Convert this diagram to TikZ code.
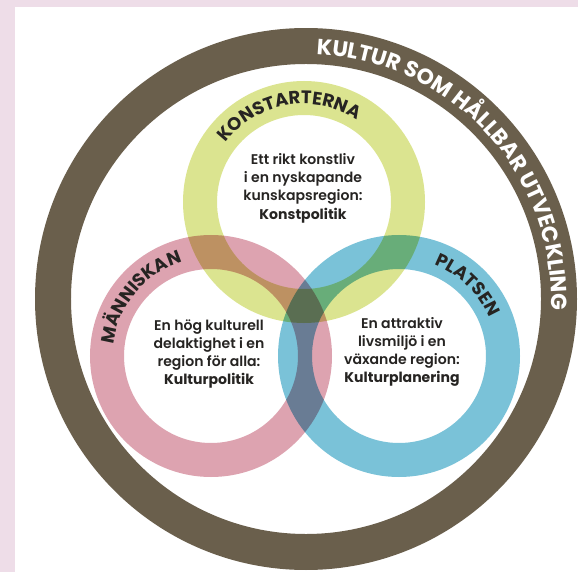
\documentclass[tikz,border=0pt]{standalone}
\usepackage{fontspec}
\setmainfont{Poppins}[UprightFont=* SemiBold, BoldFont=* Bold]
\usepackage{tikz}
\usetikzlibrary{decorations.text}
\definecolor{bgpink}{RGB}{238,221,232}
\definecolor{ringbrown}{RGB}{106,95,76}
\definecolor{konstgreen}{RGB}{216,226,132}
\definecolor{manpink}{RGB}{218,154,168}
\definecolor{platsblue}{RGB}{108,188,212}
\definecolor{labeldark}{RGB}{38,36,34}
\newcommand{\bodyfont}{\fontsize{8}{10.4}\selectfont}
\newcommand{\ringfont}{\fontsize{10.3}{12}\selectfont\bfseries}
\newcommand{\outerfont}{\fontsize{12.5}{14}\selectfont\bfseries}
\tikzset{
  ring/.style={draw=#1, line width=0.68cm, draw opacity=0.9},
  bodytext/.style={align=center, font=\bodyfont, text=labeldark, inner sep=0pt},
  ringlabel/.style={decorate, decoration={text along path, text align=center,
      text color=labeldark, text={|\ringfont|#1}}},
  outerlabel/.style={decorate, decoration={text along path, text align=center,
      text color=white, text={|\outerfont|#1}}}
}

\begin{document}
\begin{tikzpicture}[x=0.02cm, y=0.02cm]
  \fill[bgpink] (0,0) rectangle (578,572);
  \fill[white] (15,0) rectangle (578,565);
  \coordinate (O) at (306,273);
  \coordinate (K) at (304,370);
  \coordinate (M) at (211,216);
  \coordinate (P) at (399,216);
  % outer ring
  \draw[ringbrown, line width=0.72cm] (O) circle (253);
  \path[outerlabel={KULTUR SOM HÅLLBAR UTVECKLING}]
    (O) ++(100:245) arc[start angle=100, end angle=-15, radius=245];
  % the three rings
  \begin{scope}[blend group=multiply]
    \draw[ring=konstgreen] (K) circle (104);
    \draw[ring=manpink] (M) circle (104);
    \draw[ring=platsblue] (P) circle (104);
  \end{scope}
  \path[ringlabel={KONSTARTERNA}]
    (K) ++(150:98) arc[start angle=150, end angle=50, radius=98];
  \path[ringlabel={MÄNNISKAN}]
    (M) ++(190:98) arc[start angle=190, end angle=90, radius=98];
  \path[ringlabel={PLATSEN}]
    (P) ++(96:98) arc[start angle=96, end angle=-4, radius=98];
  % texts
  \node[bodytext] (konsttext) at (303,384)
    {Ett rikt konstliv\\i en nyskapande\\kunskapsregion:\\\textbf{Konstpolitik}};
  \node[bodytext] (mantext) at (209,218)
    {En hög kulturell\\delaktighet i en\\region för alla:\\\textbf{Kulturpolitik}};
  \node[bodytext] (platstext) at (402,220)
    {En attraktiv\\livsmiljö i en\\växande region:\\\textbf{Kulturplanering}};
\end{tikzpicture}
\end{document}
